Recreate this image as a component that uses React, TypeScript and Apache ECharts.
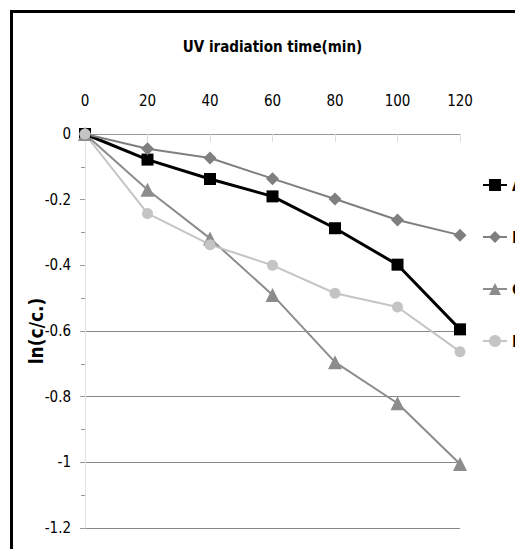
import React, { useEffect, useRef } from "react";
import * as echarts from "echarts";

const times = [0, 20, 40, 60, 80, 100, 120];
const seriesNames = ["A", "B", "C", "D"];
const valuesA = [0, -0.078, -0.137, -0.19, -0.287, -0.398, -0.595];
const valuesB = [0, -0.045, -0.073, -0.136, -0.198, -0.262, -0.308];
const valuesC = [0, -0.17, -0.318, -0.49, -0.695, -0.82, -1.005];
const valuesD = [0, -0.242, -0.337, -0.4, -0.485, -0.527, -0.663];
const yTicks = [-1.2, -1, -0.8, -0.6, -0.4, -0.2, 0];

const FONT = "'DejaVu Sans Condensed', 'Liberation Sans Narrow', 'Liberation Sans', sans-serif";

export default function App() {
  const ref = useRef<HTMLDivElement>(null);
  useEffect(() => {
    document.body.style.margin = "0";
    const chart = echarts.init(ref.current!, null, { renderer: "svg" });
    const pair = (vals: number[]) => times.map((t, i) => [t, vals[i]]);
    const mk = (
      name: string,
      vals: number[],
      color: string,
      symbol: string,
      size: number,
      width: number
    ) => ({
      name,
      type: "line",
      data: pair(vals),
      symbol,
      symbolSize: size,
      lineStyle: { color, width },
      itemStyle: { color },
      z: 3,
    });
    chart.setOption({
      animation: false,
      backgroundColor: "#fff",
      textStyle: { fontFamily: FONT },
      graphic: [
        {
          type: "rect",
          shape: { x: 11.5, y: 11.5, width: 600, height: 600 },
          style: { fill: "none", stroke: "#000", lineWidth: 3 },
          z: 100,
        },
      ],
      grid: { left: 85, right: 55, top: 134, bottom: 21, containLabel: false },
      legend: {
        orient: "vertical",
        left: 482,
        top: 177,
        padding: 0,
        itemGap: 36,
        itemWidth: 24,
        itemHeight: 15,
        data: seriesNames,
        textStyle: { fontFamily: FONT, fontSize: 16, color: "#000", fontWeight: "bold" },
      },
      xAxis: {
        type: "value",
        position: "top",
        min: 0,
        max: 120,
        interval: 20,
        name: "UV iradiation time(min)",
        nameLocation: "middle",
        nameGap: 80,
        nameMoveOverlap: false,
        nameTextStyle: { fontFamily: FONT, fontSize: 15, fontWeight: "bold", color: "#000" },
        axisLine: { show: true, onZero: false, lineStyle: { color: "#999", width: 1 } },
        axisTick: { show: true, inside: true, length: 8, lineStyle: { color: "#ddd" } },
        axisLabel: { margin: 26, fontSize: 15, color: "#000", fontFamily: FONT },
        splitLine: { show: false },
      },
      yAxis: {
        type: "value",
        min: -1.2,
        max: 0,
        interval: 0.2,
        name: "ln(c/c.)",
        nameLocation: "middle",
        nameGap: 40,
        nameRotate: 90,
        nameMoveOverlap: false,
        nameTextStyle: { fontFamily: FONT, fontSize: 19, fontWeight: "bold", color: "#000" },
        axisLine: { show: true, lineStyle: { color: "#e4e4e4", width: 1 } },
        axisTick: { show: true, length: 5, lineStyle: { color: "#999" } },
        minorTick: { show: true, splitNumber: 2, length: 4, lineStyle: { color: "#999" } },
        axisLabel: {
          margin: 14,
          fontSize: 15,
          color: "#000",
          fontFamily: FONT,
          formatter: (v: number) => {
            const t = yTicks.find((y) => Math.abs(y - v) < 1e-6);
            return String(t !== undefined ? t : v);
          },
        },
        splitLine: {
          show: true,
          lineStyle: {
            color: ["#888", "#888", "#888", "#888", "rgba(0,0,0,0)", "rgba(0,0,0,0)", "rgba(0,0,0,0)"],
            width: 1,
          },
        },
      },
      series: [
        mk("A", valuesA, "#000000", "rect", 12, 3),
        mk("B", valuesB, "#7f7f7f", "diamond", 13, 2),
        mk("C", valuesC, "#8c8c8c", "triangle", 14, 2),
        mk("D", valuesD, "#c4c4c4", "circle", 11, 2),
      ],
    });
    return () => chart.dispose();
  }, []);
  return <div ref={ref} style={{ width: 515, height: 549 }} />;
}
